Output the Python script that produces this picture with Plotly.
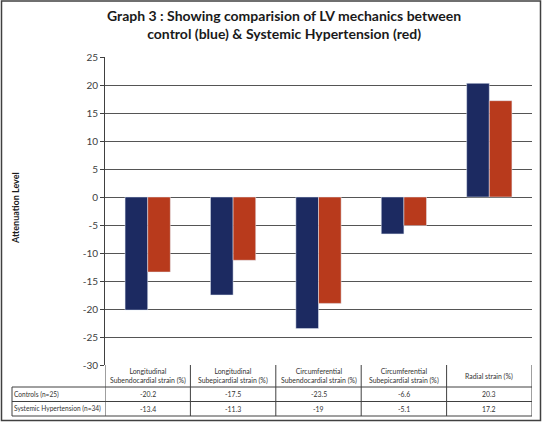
import plotly.graph_objects as go

categories = [
    "Longitudinal<br>Subendocardial strain (%)",
    "Longitudinal<br>Subepicardial strain (%)",
    "Circumferential<br>Subendocardial strain (%)",
    "Circumferential<br>Subepicardial strain (%)",
    "Radial strain (%)",
]
controls = [-20.2, -17.5, -23.5, -6.6, 20.3]
hypertension = [-13.4, -11.3, -19, -5.1, 17.2]
series_names = ["Controls (n=25)", "Systemic Hypertension (n=34)"]
controls_text = ["-20.2", "-17.5", "-23.5", "-6.6", "20.3"]
hypertension_text = ["-13.4", "-11.3", "-19", "-5.1", "17.2"]
ytick_vals = [25, 20, 15, 10, 5, 0, -5, -10, -15, -20, -25, -30]
ytick_text = ["25", "20", "15", "10", "5", "0", "-5", "-10", "-15", "-20", "-25", "-30"]

BLUE = "#1c2a61"
RED = "#b83a1c"
FONT = "Lato"

W, H = 542, 422
ML, MR, MT, MB = 105, 10, 57, 57
PW = W - ML - MR
PH = H - MT - MB


def py(pix):  # pixel y -> paper y
    return (H - MB - pix) / PH


def px(pix):  # pixel x -> paper x
    return (pix - ML) / PW


x_idx = list(range(len(categories)))

fig = go.Figure()
fig.add_trace(go.Bar(x=x_idx, y=controls, name=series_names[0], marker_color=BLUE))
fig.add_trace(go.Bar(x=x_idx, y=hypertension, name=series_names[1], marker_color=RED))

shapes = []
annotations = []

y_head_top, y_head_bot, y_r1_bot, y_r2_bot = 365, 387, 401.5, 416
line = dict(color="#404040", width=1)

for yy in [y_head_bot, y_r1_bot, y_r2_bot]:
    shapes.append(dict(type="line", xref="paper", yref="paper", x0=px(12), x1=1, y0=py(yy), y1=py(yy), line=line))
for k in range(len(categories) + 1):
    shapes.append(dict(type="line", xref="x", yref="paper", x0=k - 0.5, x1=k - 0.5,
                       y0=py(y_head_top), y1=py(y_r2_bot), line=line))
shapes.append(dict(type="line", xref="paper", yref="paper", x0=px(12), x1=px(12),
                   y0=py(y_head_bot), y1=py(y_r2_bot), line=line))
shapes.append(dict(type="rect", xref="paper", yref="paper", x0=px(1.5), x1=px(540.5),
                   y0=py(420.5), y1=py(1), line=dict(color="#404040", width=1.5)))

tfont = dict(family=FONT, size=6.9, color="#333333")
rfont = dict(family=FONT, size=6.6, color="#333333")
for k, c in enumerate(categories):
    annotations.append(dict(text=c, xref="x", yref="paper", x=k, y=py((y_head_top + y_head_bot) / 2),
                            showarrow=False, font=tfont, xanchor="center", yanchor="middle"))
    annotations.append(dict(text=controls_text[k], xref="x", yref="paper", x=k, y=py((y_head_bot + y_r1_bot) / 2),
                            showarrow=False, font=tfont, xanchor="center", yanchor="middle"))
    annotations.append(dict(text=hypertension_text[k], xref="x", yref="paper", x=k, y=py((y_r1_bot + y_r2_bot) / 2),
                            showarrow=False, font=tfont, xanchor="center", yanchor="middle"))
for i, nm in enumerate(series_names):
    ymid = (y_head_bot + y_r1_bot) / 2 if i == 0 else (y_r1_bot + y_r2_bot) / 2
    annotations.append(dict(text=nm, xref="paper", yref="paper", x=px(12), y=py(ymid),
                            showarrow=False, font=rfont, xanchor="left", yanchor="middle"))

annotations.append(dict(text="<b>Graph 3 : Showing comparision of LV mechanics between<br>control (blue) &amp; Systemic Hypertension (red)</b>",
                        xref="paper", yref="paper", x=px(284), y=py(25), showarrow=False,
                        font=dict(family=FONT, size=14, color="#1a1a1a"), xanchor="center", yanchor="middle",
                        align="center"))
annotations.append(dict(text="<b>Attenuation Level</b>", xref="paper", yref="paper", x=px(15), y=py(208),
                        showarrow=False, textangle=-90, font=dict(family=FONT, size=9, color="#1a1a1a"),
                        xanchor="center", yanchor="middle"))

fig.update_layout(
    width=W, height=H,
    margin=dict(l=ML, r=MR, t=MT, b=MB),
    paper_bgcolor="white", plot_bgcolor="white",
    barmode="group", bargap=0.47, bargroupgap=0,
    showlegend=False,
    shapes=shapes, annotations=annotations,
    font=dict(family=FONT),
)
fig.update_xaxes(range=[-0.5, 4.5], showticklabels=False, showgrid=False, zeroline=False,
                 showline=False, ticks="")
fig.update_yaxes(range=[-30, 25], tickvals=ytick_vals, ticktext=ytick_text,
                 showgrid=True, gridcolor="#555555", gridwidth=1, zeroline=False,
                 showline=True, linecolor="#404040", linewidth=1,
                 ticks="outside", ticklen=4, tickcolor="#404040",
                 tickfont=dict(family=FONT, size=10, color="#404040"))

fig.write_html("out.html", config={"displayModeBar": False},
               post_script="document.body.style.margin='0';document.body.style.overflow='hidden';")
